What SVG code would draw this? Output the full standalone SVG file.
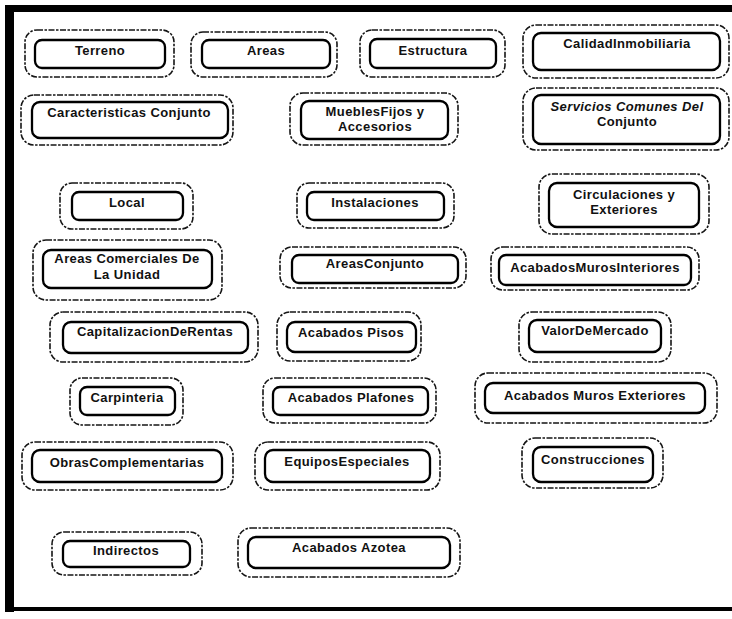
<svg xmlns="http://www.w3.org/2000/svg" width="732" height="619" viewBox="0 0 732 619">
  <style>
    .outer { fill: none; stroke: #151515; stroke-width: 1.6; stroke-dasharray: 6 1.5 2.5 1.5; }
    .inner { fill: none; stroke: #000; stroke-width: 2.3; }
    .lbl { font-family: "Liberation Sans", Arial, sans-serif; font-size: 13px; font-weight: bold; letter-spacing: 0.4px; fill: #111; text-anchor: middle; }
    .it { font-style: italic; }
    .frame { fill: #000; }
  </style>

  <rect width="732" height="619" fill="#fff"/>

  <!-- page frame: heavy top, left and bottom rules -->
  <g id="frame">
    <rect class="frame" x="5" y="5" width="727" height="7"/>
    <rect class="frame" x="5" y="5" width="9" height="607"/>
    <rect class="frame" x="5" y="607" width="727" height="4"/>
  </g>

  <!-- no connectors in this chart -->
  <g id="connectors"/>

  <g id="terreno">
    <rect class="outer" x="25" y="30" width="149" height="47" rx="12"/>
    <rect class="inner" x="35" y="40" width="130" height="28" rx="7"/>
    <text class="lbl" x="100" y="55">Terreno</text>
  </g>

  <g id="areas">
    <rect class="outer" x="191" y="32" width="146" height="45" rx="12"/>
    <rect class="inner" x="202" y="40" width="128" height="28" rx="7"/>
    <text class="lbl" x="266" y="55">Areas</text>
  </g>

  <g id="estructura">
    <rect class="outer" x="360" y="30" width="145" height="47" rx="12"/>
    <rect class="inner" x="370" y="39" width="126" height="29" rx="7"/>
    <text class="lbl" x="433" y="55">Estructura</text>
  </g>

  <g id="calidad-inmobiliaria">
    <rect class="outer" x="523" y="25" width="206" height="53" rx="13"/>
    <rect class="inner" x="533" y="33" width="187" height="37" rx="8"/>
    <text class="lbl" x="627" y="48">CalidadInmobiliaria</text>
  </g>

  <g id="caracteristicas-conjunto">
    <rect class="outer" x="21" y="95" width="212" height="50" rx="13"/>
    <rect class="inner" x="32" y="102" width="196" height="36" rx="8"/>
    <text class="lbl" x="129" y="117">Caracteristicas Conjunto</text>
  </g>

  <g id="muebles-fijos">
    <rect class="outer" x="290" y="93" width="168" height="52" rx="13"/>
    <rect class="inner" x="301" y="101" width="147" height="38" rx="8"/>
    <text class="lbl" x="375" y="116">MueblesFijos y</text>
    <text class="lbl" x="375" y="131">Accesorios</text>
  </g>

  <g id="servicios-comunes">
    <rect class="outer" x="523" y="88" width="206" height="62" rx="13"/>
    <rect class="inner" x="533" y="95" width="187" height="49" rx="8"/>
    <text class="lbl it" x="627" y="111">Servicios Comunes Del</text>
    <text class="lbl" x="627" y="126">Conjunto</text>
  </g>

  <g id="local">
    <rect class="outer" x="60" y="183" width="133" height="46" rx="12"/>
    <rect class="inner" x="72" y="192" width="111" height="28" rx="7"/>
    <text class="lbl" x="127" y="207">Local</text>
  </g>

  <g id="instalaciones">
    <rect class="outer" x="297" y="183" width="157" height="45" rx="12"/>
    <rect class="inner" x="307" y="192" width="137" height="28" rx="7"/>
    <text class="lbl" x="375" y="207">Instalaciones</text>
  </g>

  <g id="circulaciones-exteriores">
    <rect class="outer" x="539" y="174" width="170" height="60" rx="13"/>
    <rect class="inner" x="549" y="183" width="150" height="44" rx="8"/>
    <text class="lbl" x="624" y="199">Circulaciones y</text>
    <text class="lbl" x="624" y="214">Exteriores</text>
  </g>

  <g id="areas-comerciales">
    <rect class="outer" x="33" y="240" width="189" height="60" rx="13"/>
    <rect class="inner" x="43" y="250" width="169" height="38" rx="8"/>
    <text class="lbl" x="127" y="263">Areas Comerciales De</text>
    <text class="lbl" x="127" y="279">La Unidad</text>
  </g>

  <g id="areas-conjunto">
    <rect class="outer" x="280" y="247" width="186" height="41" rx="12"/>
    <rect class="inner" x="292" y="255" width="166" height="28" rx="7"/>
    <text class="lbl" x="375" y="268">AreasConjunto</text>
  </g>

  <g id="acabados-muros-interiores">
    <rect class="outer" x="491" y="247" width="208" height="43" rx="12"/>
    <rect class="inner" x="499" y="255" width="192" height="30" rx="7"/>
    <text class="lbl" x="595" y="272">AcabadosMurosInteriores</text>
  </g>

  <g id="capitalizacion-rentas">
    <rect class="outer" x="50" y="312" width="208" height="50" rx="13"/>
    <rect class="inner" x="63" y="322" width="185" height="31" rx="8"/>
    <text class="lbl" x="155" y="336">CapitalizacionDeRentas</text>
  </g>

  <g id="acabados-pisos">
    <rect class="outer" x="277" y="312" width="144" height="49" rx="13"/>
    <rect class="inner" x="287" y="322" width="129" height="30" rx="8"/>
    <text class="lbl" x="351" y="337">Acabados Pisos</text>
  </g>

  <g id="valor-mercado">
    <rect class="outer" x="519" y="312" width="152" height="50" rx="13"/>
    <rect class="inner" x="529" y="320" width="132" height="32" rx="8"/>
    <text class="lbl" x="595" y="335">ValorDeMercado</text>
  </g>

  <g id="carpinteria">
    <rect class="outer" x="70" y="378" width="113" height="47" rx="12"/>
    <rect class="inner" x="80" y="387" width="95" height="28" rx="7"/>
    <text class="lbl" x="127" y="402">Carpinteria</text>
  </g>

  <g id="acabados-plafones">
    <rect class="outer" x="263" y="378" width="173" height="45" rx="12"/>
    <rect class="inner" x="273" y="387" width="155" height="28" rx="7"/>
    <text class="lbl" x="351" y="402">Acabados Plafones</text>
  </g>

  <g id="acabados-muros-exteriores">
    <rect class="outer" x="475" y="373" width="242" height="50" rx="13"/>
    <rect class="inner" x="485" y="383" width="220" height="30" rx="8"/>
    <text class="lbl" x="595" y="400">Acabados Muros Exteriores</text>
  </g>

  <g id="obras-complementarias">
    <rect class="outer" x="22" y="442" width="211" height="48" rx="13"/>
    <rect class="inner" x="32" y="450" width="190" height="32" rx="8"/>
    <text class="lbl" x="127" y="467">ObrasComplementarias</text>
  </g>

  <g id="equipos-especiales">
    <rect class="outer" x="255" y="442" width="185" height="48" rx="13"/>
    <rect class="inner" x="265" y="450" width="165" height="32" rx="8"/>
    <text class="lbl" x="347" y="466">EquiposEspeciales</text>
  </g>

  <g id="construcciones">
    <rect class="outer" x="522" y="438" width="141" height="50" rx="13"/>
    <rect class="inner" x="533" y="447" width="120" height="35" rx="8"/>
    <text class="lbl" x="593" y="464">Construcciones</text>
  </g>

  <g id="indirectos">
    <rect class="outer" x="52" y="532" width="150" height="43" rx="12"/>
    <rect class="inner" x="63" y="541" width="127" height="26" rx="7"/>
    <text class="lbl" x="126" y="555">Indirectos</text>
  </g>

  <g id="acabados-azotea">
    <rect class="outer" x="238" y="528" width="222" height="49" rx="13"/>
    <rect class="inner" x="248" y="537" width="202" height="31" rx="8"/>
    <text class="lbl" x="349" y="552">Acabados Azotea</text>
  </g>
</svg>
